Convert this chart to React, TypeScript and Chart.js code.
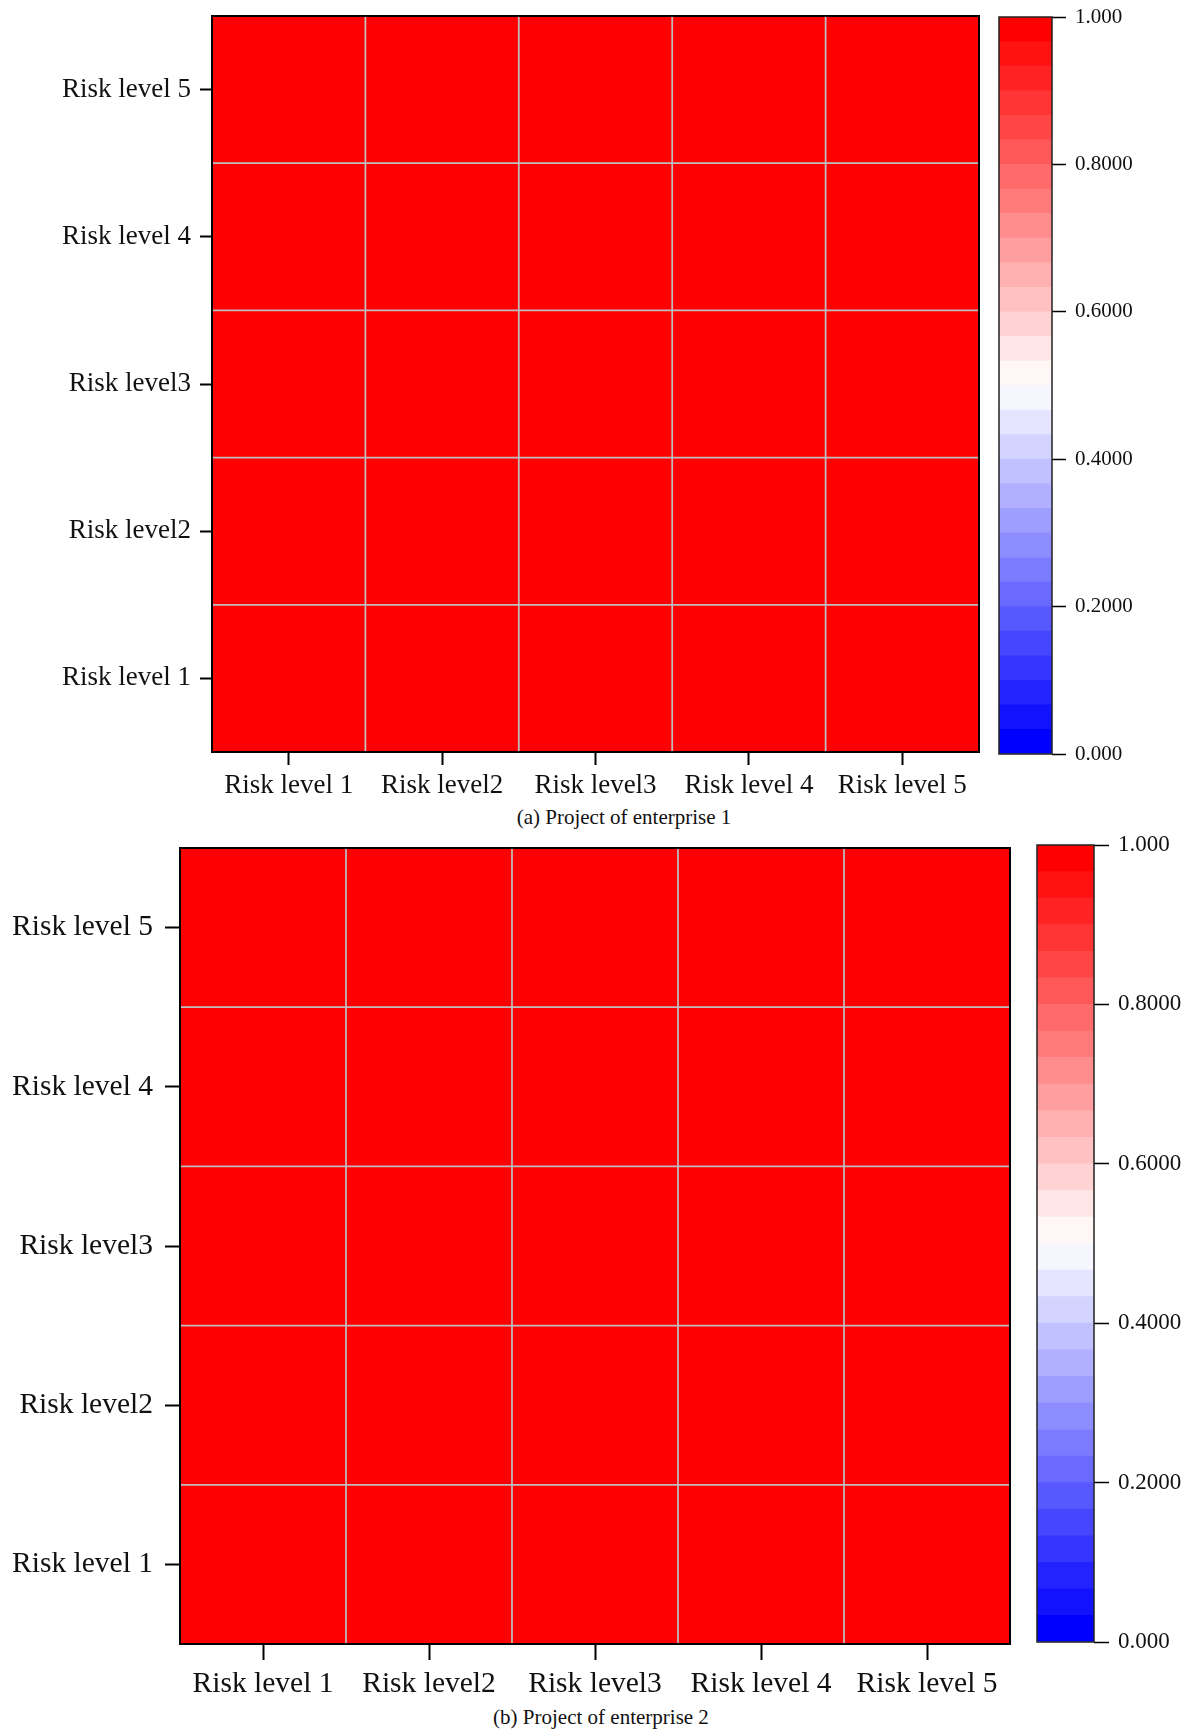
import React, { useEffect, useRef } from "react";
import { Chart, registerables } from "chart.js";

Chart.register(...registerables);

// ---------- data ----------
const xLabels = ["Risk level 1", "Risk level2", "Risk level3", "Risk level 4", "Risk level 5"];
const yLabels = ["Risk level 1", "Risk level2", "Risk level3", "Risk level 4", "Risk level 5"];

// Enterprise 1: rows from Risk level 1 (bottom) to Risk level 5 (top), columns Risk level 1..5
const ent1Level1 = [1.0, 1.0, 1.0, 1.0, 1.0];
const ent1Level2 = [1.0, 1.0, 1.0, 1.0, 1.0];
const ent1Level3 = [1.0, 1.0, 1.0, 1.0, 1.0];
const ent1Level4 = [1.0, 1.0, 1.0, 1.0, 1.0];
const ent1Level5 = [1.0, 1.0, 1.0, 1.0, 1.0];

// Enterprise 2
const ent2Level1 = [1.0, 1.0, 1.0, 1.0, 1.0];
const ent2Level2 = [1.0, 1.0, 1.0, 1.0, 1.0];
const ent2Level3 = [1.0, 1.0, 1.0, 1.0, 1.0];
const ent2Level4 = [1.0, 1.0, 1.0, 1.0, 1.0];
const ent2Level5 = [1.0, 1.0, 1.0, 1.0, 1.0];

const colorbarTickValues = [0, 0.2, 0.4, 0.6, 0.8, 1.0];
const colorbarTickLabels = ["0.000", "0.2000", "0.4000", "0.6000", "0.8000", "1.000"];
const colorbarLevels = 30;

const captionA = "(a) Project of enterprise 1";
const captionB = "(b) Project of enterprise 2";

// ---------- helpers ----------
const FONT = "'Liberation Serif', 'Times New Roman', serif";

function colormap(t: number): string {
  const v = Math.max(0, Math.min(1, t));
  if (v < 0.5) {
    const c = Math.round(255 * 2 * v);
    return `rgb(${c},${c},255)`;
  }
  const c = Math.round(255 * 2 * (1 - v));
  return `rgb(255,${c},${c})`;
}

const framePlugin = {
  id: "frame",
  afterDatasetsDraw(chart: any, _args: any, opts: any) {
    const { ctx, chartArea } = chart;
    ctx.save();
    ctx.strokeStyle = opts.color || "#000";
    ctx.lineWidth = opts.width || 2;
    ctx.strokeRect(chartArea.left, chartArea.top, chartArea.right - chartArea.left, chartArea.bottom - chartArea.top);
    ctx.restore();
  },
};

type HeatLayout = {
  yAxisWidth: number;
  xAxisHeight: number;
  padTop: number;
  padRight: number;
  fontSize: number;
  yTickLen: number;
  yPad: number;
  xTickLen: number;
  xPad: number;
};

function heatmapConfig(values: number[][], L: HeatLayout): any {
  const datasets = values.map((row, r) => ({
    label: yLabels[r],
    data: row.map(() => [r + 0.5, r + 1.5]),
    backgroundColor: row.map((v) => colormap(v)),
    borderColor: "#bdbdbd",
    borderWidth: 1.2,
    borderSkipped: false,
    barPercentage: 1,
    categoryPercentage: 1,
    grouped: false,
  }));
  return {
    type: "bar",
    data: { labels: xLabels, datasets },
    plugins: [framePlugin],
    options: {
      animation: false,
      responsive: false,
      maintainAspectRatio: false,
      layout: { padding: { top: L.padTop, right: L.padRight, left: 0, bottom: 0 } },
      plugins: {
        legend: { display: false },
        tooltip: { enabled: false },
        frame: { color: "#000", width: 2 },
      },
      scales: {
        x: {
          type: "category",
          offset: true,
          border: { display: false },
          grid: {
            display: true,
            offset: false,
            drawOnChartArea: false,
            drawTicks: true,
            tickLength: L.xTickLen,
            tickWidth: 2,
            tickColor: "#000",
          },
          ticks: {
            autoSkip: false,
            maxRotation: 0,
            padding: L.xPad,
            color: "#111",
            font: { family: FONT, size: L.fontSize },
          },
          afterFit: (s: any) => {
            s.height = L.xAxisHeight;
            s.paddingLeft = 0;
            s.paddingRight = 0;
          },
        },
        y: {
          type: "linear",
          min: 0.5,
          max: 5.5,
          border: { display: false },
          afterBuildTicks: (s: any) => {
            s.ticks = yLabels.map((_, i) => ({ value: i + 1 }));
          },
          grid: {
            display: true,
            drawOnChartArea: false,
            drawTicks: true,
            tickLength: L.yTickLen,
            tickWidth: 2,
            tickColor: "#000",
          },
          ticks: {
            padding: L.yPad,
            color: "#111",
            font: { family: FONT, size: L.fontSize },
            callback: (_v: any, i: number) => yLabels[i],
          },
          afterFit: (s: any) => {
            s.width = L.yAxisWidth;
            s.paddingTop = 0;
            s.paddingBottom = 0;
          },
        },
      },
    },
  };
}

type BarLayout = {
  padLeft: number;
  padTop: number;
  padBottom: number;
  axisWidth: number;
  fontSize: number;
  tickLen: number;
  pad: number;
};

function colorbarConfig(L: BarLayout): any {
  const datasets: any[] = [];
  for (let k = 0; k < colorbarLevels; k++) {
    datasets.push({
      data: [[k / colorbarLevels, (k + 1) / colorbarLevels]],
      backgroundColor: colormap(k / (colorbarLevels - 1)),
      borderWidth: 0,
      barPercentage: 1,
      categoryPercentage: 1,
      grouped: false,
    });
  }
  return {
    type: "bar",
    data: { labels: [""], datasets },
    plugins: [framePlugin],
    options: {
      animation: false,
      responsive: false,
      maintainAspectRatio: false,
      layout: { padding: { top: L.padTop, bottom: L.padBottom, left: L.padLeft, right: 0 } },
      plugins: {
        legend: { display: false },
        tooltip: { enabled: false },
        frame: { color: "#222", width: 1.5 },
      },
      scales: {
        x: { display: false },
        y: {
          position: "right",
          min: 0,
          max: 1,
          border: { display: false },
          afterBuildTicks: (s: any) => {
            s.ticks = colorbarTickValues.map((v) => ({ value: v }));
          },
          grid: {
            display: true,
            drawOnChartArea: false,
            drawTicks: true,
            tickLength: L.tickLen,
            tickWidth: 1.5,
            tickColor: "#000",
          },
          ticks: {
            padding: L.pad,
            color: "#111",
            font: { family: FONT, size: L.fontSize },
            callback: (_v: any, i: number) => colorbarTickLabels[i],
          },
          afterFit: (s: any) => {
            s.width = L.axisWidth;
            s.paddingTop = 0;
            s.paddingBottom = 0;
          },
        },
      },
    },
  };
}

function ChartCanvas(props: { config: () => any; left: number; top: number; width: number; height: number }) {
  const ref = useRef<HTMLCanvasElement | null>(null);
  useEffect(() => {
    if (!ref.current) return;
    const chart = new Chart(ref.current, props.config());
    return () => chart.destroy();
  }, []);
  return (
    <canvas
      ref={ref}
      width={props.width}
      height={props.height}
      style={{
        position: "absolute",
        left: props.left,
        top: props.top,
        width: props.width,
        height: props.height,
        display: "block",
      }}
    />
  );
}

function Caption(props: { text: string; cx: number; cy: number; size: number }) {
  return (
    <div
      style={{
        position: "absolute",
        left: props.cx,
        top: props.cy - props.size * 0.6,
        transform: "translateX(-50%)",
        whiteSpace: "nowrap",
        fontFamily: FONT,
        fontSize: props.size,
        lineHeight: `${props.size * 1.2}px`,
        color: "#111",
      }}
    >
      {props.text}
    </div>
  );
}

export default function App() {
  const ent1 = [ent1Level1, ent1Level2, ent1Level3, ent1Level4, ent1Level5];
  const ent2 = [ent2Level1, ent2Level2, ent2Level3, ent2Level4, ent2Level5];

  return (
    <div style={{ position: "absolute", left: 0, top: 0, width: 1188, height: 1733, background: "#fff", overflow: "hidden" }}>
      {/* Panel (a) */}
      <ChartCanvas
        left={0}
        top={0}
        width={990}
        height={800}
        config={() =>
          heatmapConfig(ent1, {
            yAxisWidth: 212,
            xAxisHeight: 48,
            padTop: 16,
            padRight: 11,
            fontSize: 27,
            yTickLen: 12,
            yPad: 9,
            xTickLen: 13,
            xPad: 5,
          })
        }
      />
      <ChartCanvas
        left={995}
        top={0}
        width={193}
        height={780}
        config={() =>
          colorbarConfig({
            padLeft: 4,
            padTop: 17,
            padBottom: 26,
            axisWidth: 136,
            fontSize: 21,
            tickLen: 14,
            pad: 9,
          })
        }
      />
      <Caption text={captionA} cx={624} cy={818} size={21} />

      {/* Panel (b) */}
      <ChartCanvas
        left={0}
        top={830}
        width={1020}
        height={870}
        config={() =>
          heatmapConfig(ent2, {
            yAxisWidth: 180,
            xAxisHeight: 56,
            padTop: 18,
            padRight: 10,
            fontSize: 29.5,
            yTickLen: 15,
            yPad: 12,
            xTickLen: 16,
            xPad: 7,
          })
        }
      />
      <ChartCanvas
        left={1030}
        top={830}
        width={158}
        height={840}
        config={() =>
          colorbarConfig({
            padLeft: 7,
            padTop: 15,
            padBottom: 28,
            axisWidth: 94,
            fontSize: 23,
            tickLen: 15,
            pad: 9,
          })
        }
      />
      <Caption text={captionB} cx={601} cy={1718} size={21} />
    </div>
  );
}
